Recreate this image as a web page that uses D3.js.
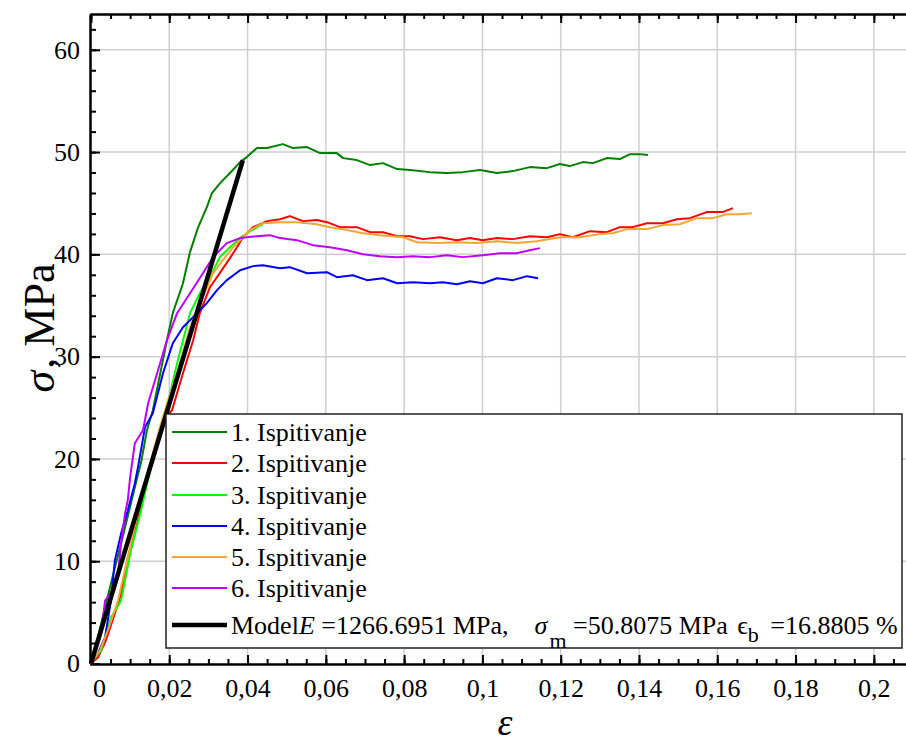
<!DOCTYPE html>
<html>
<head>
<meta charset="utf-8">
<script src="https://cdn.jsdelivr.net/npm/d3@7"></script>
<style>
  body { margin: 0; background: #fff; }
  svg { display: block; }
  text { font-family: "Liberation Serif", "Times New Roman", serif; }
</style>
</head>
<body>
<svg id="chart"></svg>
<script>
// strain / stress pairs
var test1 = [[0,0],[0.0010,1.27],[0.0031,4.70],[0.0056,8.61],[0.0082,12.52],[0.0107,16.44],[0.0128,19.67],[0.0143,22.80],[0.0158,24.76],[0.0176,28.18],[0.0194,31.60],[0.0209,34.25],[0.0235,37.18],[0.0253,40.22],[0.0273,42.56],[0.0296,44.62],[0.0309,45.99],[0.0330,46.97],[0.0355,47.95],[0.0381,49.02],[0.0398,49.51],[0.0424,50.39],[0.0450,50.39],[0.0490,50.78],[0.0516,50.39],[0.0552,50.49],[0.0585,49.90],[0.0628,49.90],[0.0644,49.41],[0.0679,49.22],[0.0713,48.73],[0.0746,48.92],[0.0782,48.34],[0.0815,48.24],[0.0866,48.04],[0.0909,47.95],[0.0950,48.04],[0.0994,48.24],[0.1037,47.95],[0.1078,48.14],[0.1121,48.53],[0.1165,48.43],[0.1198,48.83],[0.1223,48.63],[0.1257,49.02],[0.1282,48.92],[0.1318,49.41],[0.1351,49.32],[0.1377,49.80],[0.1402,49.80],[0.1423,49.71]];
var test2 = [[0,0],[0.0018,0.59],[0.0038,2.25],[0.0061,4.89],[0.0077,6.85],[0.0094,10.37],[0.0112,12.72],[0.0125,14.97],[0.0140,17.61],[0.0163,20.55],[0.0184,23.78],[0.0207,24.76],[0.0235,28.38],[0.0261,31.60],[0.0278,34.25],[0.0304,36.79],[0.0329,38.16],[0.0355,39.63],[0.0373,40.70],[0.0388,41.68],[0.0414,42.66],[0.0450,43.25],[0.0483,43.44],[0.0508,43.74],[0.0541,43.25],[0.0577,43.35],[0.0603,43.15],[0.0636,42.66],[0.0679,42.66],[0.0713,42.17],[0.0746,42.17],[0.0782,41.78],[0.0815,41.78],[0.0848,41.49],[0.0891,41.68],[0.0935,41.39],[0.0968,41.59],[0.1001,41.39],[0.1037,41.59],[0.1078,41.49],[0.1121,41.78],[0.1165,41.68],[0.1198,41.98],[0.1231,41.68],[0.1275,42.27],[0.1318,42.17],[0.1351,42.66],[0.1384,42.66],[0.1420,43.05],[0.1461,43.05],[0.1497,43.44],[0.1530,43.54],[0.1573,44.13],[0.1614,44.13],[0.1640,44.52]];
var test3 = [[0,0],[0.0026,1.27],[0.0051,4.50],[0.0077,6.16],[0.0102,11.06],[0.0128,14.97],[0.0153,19.18],[0.0189,24.27],[0.0222,29.65],[0.0253,34.25],[0.0278,36.20],[0.0304,37.77],[0.0329,39.73],[0.0355,40.70],[0.0381,41.59],[0.0406,42.27],[0.0439,42.95]];
var test4 = [[0,0],[0.0018,0.98],[0.0036,2.54],[0.0051,6.16],[0.0061,10.08],[0.0077,12.72],[0.0094,14.97],[0.0112,17.61],[0.0120,19.18],[0.0138,23.09],[0.0158,24.46],[0.0184,28.38],[0.0209,31.31],[0.0235,32.88],[0.0271,34.25],[0.0296,35.23],[0.0322,36.50],[0.0347,37.48],[0.0381,38.45],[0.0414,38.85],[0.0439,38.94],[0.0483,38.65],[0.0508,38.75],[0.0552,38.16],[0.0603,38.26],[0.0628,37.77],[0.0669,37.96],[0.0705,37.48],[0.0746,37.67],[0.0782,37.18],[0.0822,37.28],[0.0866,37.18],[0.0899,37.28],[0.0935,37.08],[0.0968,37.38],[0.1001,37.18],[0.1037,37.67],[0.1078,37.48],[0.1114,37.87],[0.1142,37.67]];
var test5 = [[0,0],[0.0023,1.27],[0.0043,3.23],[0.0069,6.16],[0.0094,10.37],[0.0120,14.97],[0.0146,18.88],[0.0176,23.09],[0.0197,25.73],[0.0220,28.38],[0.0253,32.88],[0.0286,35.81],[0.0312,38.16],[0.0337,39.43],[0.0363,40.70],[0.0388,41.68],[0.0406,42.37],[0.0439,43.05],[0.0483,43.15],[0.0526,43.15],[0.0577,42.95],[0.0610,42.66],[0.0654,42.37],[0.0695,42.07],[0.0738,41.88],[0.0797,41.68],[0.0833,41.19],[0.0884,41.10],[0.0935,41.19],[0.0986,41.10],[0.1037,41.29],[0.1088,41.10],[0.1139,41.29],[0.1198,41.68],[0.1249,41.68],[0.1300,41.98],[0.1333,42.07],[0.1369,42.47],[0.1420,42.47],[0.1461,42.86],[0.1504,42.95],[0.1548,43.54],[0.1589,43.54],[0.1624,43.93],[0.1658,43.93],[0.1688,44.03]];
var test6 = [[0,0],[0.0010,0.98],[0.0026,2.94],[0.0036,6.16],[0.0054,7.14],[0.0069,8.81],[0.0077,11.74],[0.0087,14.68],[0.0094,15.95],[0.0100,18.20],[0.0112,21.53],[0.0133,22.80],[0.0146,25.44],[0.0169,28.38],[0.0194,31.60],[0.0220,34.25],[0.0253,36.20],[0.0286,38.16],[0.0312,39.73],[0.0347,41.10],[0.0381,41.59],[0.0424,41.78],[0.0457,41.88],[0.0483,41.59],[0.0526,41.39],[0.0567,40.90],[0.0610,40.70],[0.0654,40.41],[0.0695,40.02],[0.0738,39.82],[0.0782,39.73],[0.0822,39.82],[0.0866,39.73],[0.0909,39.92],[0.0950,39.73],[0.1001,39.92],[0.1045,40.12],[0.1088,40.12],[0.1121,40.41],[0.1147,40.61]];
var model = [[0,0],[0.0388,49.2]];

var names = ['1. Ispitivanje','2. Ispitivanje','3. Ispitivanje','4. Ispitivanje','5. Ispitivanje','6. Ispitivanje'];
var colors = ['#008000','#ff0000','#00ff00','#0000ff','#f0a830','#c000ff'];
var series = [test1, test2, test3, test4, test5, test6];

var xMajor = [0,0.02,0.04,0.06,0.08,0.1,0.12,0.14,0.16,0.18,0.2];
var yMajor = [0,10,20,30,40,50,60];

var W = 906, H = 742;
var svg = d3.select('#chart').attr('width', W).attr('height', H);

var x = d3.scaleLinear().domain([-0.00025, 0.21]).range([90, 913]);
var y = d3.scaleLinear().domain([0, 63.5]).range([663.5, 14]);

// grid
svg.append('g').selectAll('line').data(xMajor.slice(1)).enter().append('line')
	.attr('x1', (d) => x(d)).attr('x2', (d) => x(d))
	.attr('y1', y(63.5)).attr('y2', y(0))
	.attr('stroke', '#cfcfcf').attr('stroke-width', 1.5);
svg.append('g').selectAll('line').data(yMajor.slice(1)).enter().append('line')
	.attr('x1', x(-0.00025)).attr('x2', x(0.21))
	.attr('y1', (d) => y(d)).attr('y2', (d) => y(d))
	.attr('stroke', '#cfcfcf').attr('stroke-width', 1.5);

// axes
var fmtX = (d) => d3.format('~g')(d).replace('.', ',');
var xMinor = d3.range(0, 0.2101, 0.005);
var yMinor = d3.range(0, 63, 2);

function styleAxis(g) {
	g.attr('font-family', '"Liberation Serif", serif');
	g.select('.domain').attr('stroke', '#000').attr('stroke-width', 2);
	g.selectAll('.tick line').attr('stroke', '#000').attr('stroke-width', 2);
	g.selectAll('.tick text').attr('fill', '#000').style('font-size', '26px')
		.style('font-family', '"Liberation Serif", serif');
}

svg.append('g').attr('transform', 'translate(0,664)')
	.call(d3.axisBottom(x).tickValues(xMinor).tickFormat('').tickSizeInner(-5).tickSizeOuter(0)).call(styleAxis);
svg.append('g').attr('transform', 'translate(0,664)')
	.call(d3.axisBottom(x).tickValues(xMajor).tickFormat(fmtX).tickSizeInner(-9).tickSizeOuter(0).tickPadding(15)).call(styleAxis)
	.selectAll('.tick text').attr('dx', (d) => d === 0 ? 8 : 0);

svg.append('g').attr('transform', 'translate(0,14)')
	.call(d3.axisTop(x).tickValues(xMinor).tickFormat('').tickSizeInner(-5).tickSizeOuter(0)).call(styleAxis);
svg.append('g').attr('transform', 'translate(0,14)')
	.call(d3.axisTop(x).tickValues(xMajor).tickFormat('').tickSizeInner(-9).tickSizeOuter(0)).call(styleAxis);

svg.append('g').attr('transform', 'translate(90,0)')
	.call(d3.axisLeft(y).tickValues(yMinor).tickFormat('').tickSizeInner(-6).tickSizeOuter(0)).call(styleAxis);
svg.append('g').attr('transform', 'translate(90,0)')
	.call(d3.axisLeft(y).tickValues(yMajor).tickSizeInner(-10).tickSizeOuter(0).tickPadding(10)).call(styleAxis);

// curves
var line = d3.line().x((d) => x(d[0])).y((d) => y(d[1])).curve(d3.curveLinear);

svg.append('g').selectAll('path').data(series).enter().append('path')
	.attr('d', line)
	.attr('fill', 'none')
	.attr('stroke', (d, i) => colors[i])
	.attr('stroke-width', 2)
	.attr('stroke-linejoin', 'round');

svg.append('path').datum(model).attr('d', line)
	.attr('fill', 'none').attr('stroke', '#000').attr('stroke-width', 4.5);

// legend
var lg = svg.append('g');
lg.append('rect').attr('x', 166).attr('y', 414).attr('width', 736).attr('height', 234)
	.attr('fill', '#fff').attr('stroke', '#222').attr('stroke-width', 1.5);

var rowY = [432, 463, 495, 526, 557, 588];
names.forEach(function(n, i) {
	lg.append('line').attr('x1', 172).attr('x2', 227).attr('y1', rowY[i]).attr('y2', rowY[i])
		.attr('stroke', colors[i]).attr('stroke-width', 2);
	lg.append('text').attr('x', 231).attr('y', rowY[i] + 9).style('font-size', '26px').text(n);
});
lg.append('line').attr('x1', 172).attr('x2', 227).attr('y1', 625).attr('y2', 625)
	.attr('stroke', '#000').attr('stroke-width', 4.5);
var mt = lg.append('text').attr('x', 231).attr('y', 634).style('font-size', '26px').attr('xml:space', 'preserve');
mt.append('tspan').text('Model');
mt.append('tspan').style('font-style', 'italic').text('E');
mt.append('tspan').text(' =1266.6951 MPa,    ');
mt.append('tspan').style('font-style', 'italic').text('σ');
mt.append('tspan').attr('dx', 2).attr('dy', 14).style('font-size', '22px').text('m');
mt.append('tspan').attr('dy', -14).text(' =50.8075 MPa ');
mt.append('tspan').attr('dx', 3).text('ϵ');
mt.append('tspan').attr('dy', 8).style('font-size', '22px').text('b');
mt.append('tspan').attr('dx', 5).attr('dy', -8).text(' =16.8805 %');

// axis titles
var yt = svg.append('text').attr('transform', 'translate(54,328) rotate(-90)')
	.attr('text-anchor', 'middle').style('font-size', '44px');
yt.append('tspan').style('font-style', 'italic').text('σ');
yt.append('tspan').attr('dx', 2).text(',');
yt.append('tspan').attr('dx', 11).text('MPa');

svg.append('text').attr('x', 505).attr('y', 735).attr('text-anchor', 'middle')
	.style('font-size', '38px').style('font-style', 'italic').text('ε');
</script>
</body>
</html>
